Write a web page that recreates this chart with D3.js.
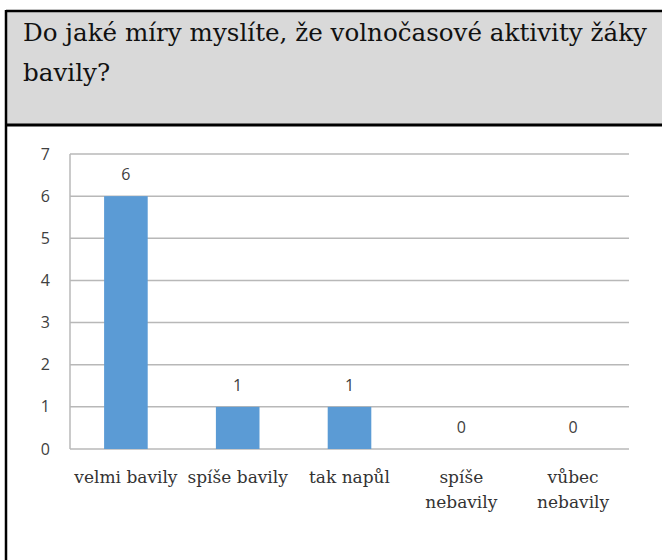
<!DOCTYPE html>
<html>
<head>
<meta charset="utf-8">
<script src="https://cdn.jsdelivr.net/npm/d3@7"></script>
<style>
  html, body { margin: 0; padding: 0; background: #fff; }
  svg { display: block; }
</style>
</head>
<body>
<svg id="chart" width="662" height="560"></svg>
<script>
// Survey question and answers
const titleLines = ["Do jaké míry myslíte, že volnočasové aktivity žáky", "bavily?"];
const categories = ["velmi bavily", "spíše bavily", "tak napůl", "spíše nebavily", "vůbec nebavily"];
const categoryLines = [["velmi bavily"], ["spíše bavily"], ["tak napůl"], ["spíše", "nebavily"], ["vůbec", "nebavily"]];
const counts = [6, 1, 1, 0, 0];
const yTicks = [0, 1, 2, 3, 4, 5, 6, 7];

const svg = d3.select("#chart");
const W = 662, H = 560;

// Header panel with the question
svg.append("rect").attr("x", 6).attr("y", 11).attr("width", W).attr("height", 114)
  .attr("fill", "#d9d9d9");
svg.append("line").attr("x1", 6).attr("x2", W).attr("y1", 11).attr("y2", 11)
  .attr("stroke", "#000").attr("stroke-width", 2.5);
svg.append("line").attr("x1", 6).attr("x2", W).attr("y1", 125).attr("y2", 125)
  .attr("stroke", "#000").attr("stroke-width", 3);
svg.append("line").attr("x1", 6).attr("x2", 6).attr("y1", 10).attr("y2", H)
  .attr("stroke", "#000").attr("stroke-width", 2.5);

const title = svg.append("text")
  .attr("font-family", "'DejaVu Serif', serif")
  .attr("font-size", 24.6)
  .attr("fill", "#111");
titleLines.forEach((t, i) => {
  title.append("tspan").attr("x", 23).attr("y", 41 + i * 40).text(t);
});

// Plot area
const margin = { left: 70, right: 629, top: 154, bottom: 449 };
const x = d3.scaleBand().domain(categories).range([margin.left, margin.right]).paddingInner(0.61).paddingOuter(0.305);
const y = d3.scaleLinear().domain([0, 7]).range([margin.bottom, margin.top]);

// Gridlines
svg.append("g").selectAll("line").data(yTicks).join("line")
  .attr("x1", margin.left).attr("x2", margin.right)
  .attr("y1", d => y(d)).attr("y2", d => y(d))
  .attr("stroke", "#b8b8b8").attr("stroke-width", 1.5);

// Left axis line
svg.append("line").attr("x1", margin.left).attr("x2", margin.left)
  .attr("y1", y(7)).attr("y2", y(0))
  .attr("stroke", "#b8b8b8").attr("stroke-width", 1.5);

// Y tick labels via d3 axis
const yAxis = svg.append("g").attr("transform", `translate(${margin.left - 20},0)`)
  .call(d3.axisLeft(y).tickValues(yTicks).tickSize(0).tickPadding(0).tickFormat(d3.format("d")));
yAxis.select(".domain").remove();
yAxis.selectAll("text")
  .attr("font-family", "'Open Sans', sans-serif").attr("font-size", 16)
  .attr("fill", "#404040");

// Bars
svg.append("g").selectAll("rect").data(counts).join("rect")
  .attr("x", (d, i) => x(categories[i]))
  .attr("width", x.bandwidth())
  .attr("y", d => y(d))
  .attr("height", d => y(0) - y(d))
  .attr("fill", "#5b9bd5");

// Value labels
svg.append("g").selectAll("text").data(counts).join("text")
  .attr("x", (d, i) => x(categories[i]) + x.bandwidth() / 2)
  .attr("y", d => y(d) - 16)
  .attr("text-anchor", "middle")
  .attr("font-family", "'Open Sans', sans-serif").attr("font-size", 16)
  .attr("fill", "#404040")
  .text(d => d);

// Category labels
const cat = svg.append("g").selectAll("text").data(categoryLines).join("text")
  .attr("text-anchor", "middle")
  .attr("font-family", "'DejaVu Serif', serif").attr("font-size", 17)
  .attr("fill", "#333");
cat.each(function (lines, i) {
  const cx = x(categories[i]) + x.bandwidth() / 2;
  lines.forEach((l, j) => {
    d3.select(this).append("tspan").attr("x", cx).attr("y", 483 + j * 25).text(l);
  });
});
</script>
</body>
</html>
